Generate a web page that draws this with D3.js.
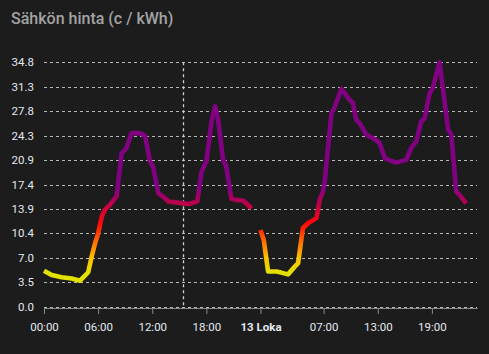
<!DOCTYPE html>
<html><head><meta charset="utf-8">
<script src="https://cdn.jsdelivr.net/npm/d3@7"></script>
<style>
html,body{margin:0;padding:0;background:#1c1c1c;}
svg{display:block;font-family:Roboto,"Noto Sans",sans-serif;}
</style></head><body>
<svg id="c" width="489" height="354"></svg>
<script>
// ---- data ----
const title = "Sähkön hinta (c / kWh)";
// hours since 00:00 of the first day at each bend of the line
const day1Hours  = [0,0.85,1.96,3.06,4.0,4.9,5.28,5.65,6.0,6.4,6.75,7.3,8.05,8.6,9.16,9.7,10.6,11.2,11.75,12.1,12.67,13.2,13.8,15.47,16.0,17.0,17.46,18.0,18.57,18.97,19.3,19.85,20.2,20.76,21.3,22.07,22.6,23.0];
const day1Values = [5.13,4.5,4.2,4.0,3.7,4.9,7.1,9.0,10.4,12.8,13.8,14.5,15.7,21.8,22.6,24.7,24.7,24.3,20.65,19.9,16.15,15.67,14.96,14.7,14.6,15.0,19.2,20.65,26.35,28.5,26.6,20.9,20.0,15.4,15.2,15.1,14.5,14.0];
const day2Hours  = [24.0,24.36,24.84,25.77,26.3,27.05,27.8,28.17,28.7,29.3,30.2,30.56,30.93,31.1,31.86,32.2,32.97,33.9,34.25,34.6,35.0,35.7,36.8,37.2,37.8,38.7,39.06,40.16,40.7,41.27,41.8,42.2,42.75,43.1,43.85,44.8,45.15,45.7,46.07,46.8];
const day2Values = [10.9,9.5,5.0,5.0,4.85,4.6,5.7,6.2,11.2,11.9,12.6,15.2,16.4,17.6,27.5,28.3,31.0,29.4,29.0,26.6,26.1,24.5,23.7,23.3,21.1,20.65,20.5,20.9,22.6,23.5,26.35,26.8,30.4,31.1,34.77,25.2,24.5,16.4,15.9,14.7];
const yMax = 34.77;
const yTickValues = [0,1,2,3,4,5,6,7,8,9,10].map(i => i * yMax / 10);
const xTickHours = [0,6,12,18,24,31,37,43];
const xTickLabels = ["00:00","06:00","12:00","18:00","13 Loka","07:00","13:00","19:00"];
const nowHour = 15.4;
const colorStopValues = [4.8, 7, 9.2, 11.8, 14.2, 16.8];
const colorStopColors = ["#e2e200", "#ffbe00", "#ff7000", "#ff0808", "#c8003e", "#820082"];

// ---- layout ----
const svg = d3.select("#c");
const x = d3.scaleLinear().domain([0, 48]).range([44, 477]);
const y = d3.scaleLinear().domain([0, yMax]).range([306.7, 62.3]);

svg.append("rect").attr("width", 489).attr("height", 354).attr("fill", "#1c1c1c");

svg.append("text").attr("x", 11).attr("y", 23.5)
  .attr("font-size", 16).attr("font-weight", 500).attr("fill", "#a3a3a3")
  .text(title);

// gridlines
const grid = svg.append("g");
grid.selectAll("line").data(yTickValues).join("line")
  .attr("x1", x(0)).attr("x2", x(48))
  .attr("y1", d => Math.round(y(d)) + 0.5).attr("y2", d => Math.round(y(d)) + 0.5)
  .attr("stroke", "#b8b8b8").attr("stroke-width", 1).attr("stroke-dasharray", "3,3");

// y labels
svg.append("g").selectAll("text").data(yTickValues).join("text")
  .attr("x", 34).attr("y", d => y(d) + 4)
  .attr("text-anchor", "end").attr("font-size", 11.5).attr("fill", "#e2e8ef")
  .text(d => d3.format(".1f")(d));

// now line
svg.append("line")
  .attr("x1", Math.round(x(nowHour)) + 0.5).attr("x2", Math.round(x(nowHour)) + 0.5)
  .attr("y1", y(yMax)).attr("y2", y(0))
  .attr("stroke", "#d0d0d0").attr("stroke-width", 1.3).attr("stroke-dasharray", "3,3");

// x axis
const xAxis = d3.axisBottom(x).tickValues(xTickHours)
  .tickFormat((d, i) => xTickLabels[i]).tickSize(6).tickSizeOuter(0);
const gx = svg.append("g").attr("transform", "translate(0,308)").call(xAxis);
gx.select(".domain").attr("stroke", "#8a8a8a").attr("stroke-width", 1.2);
gx.selectAll(".tick line").attr("stroke", "#8a8a8a");
gx.selectAll(".tick text").attr("fill", "#e2e8ef").attr("font-size", 11.5)
  .attr("font-family", "Roboto, 'Noto Sans', sans-serif").attr("dy", "1.2em")
  .attr("font-weight", (d, i) => xTickLabels[i] === "13 Loka" ? 700 : 400);

// gradient by value
const defs = svg.append("defs");
const grad = defs.append("linearGradient").attr("id", "lg")
  .attr("gradientUnits", "userSpaceOnUse")
  .attr("x1", 0).attr("x2", 0).attr("y1", y(0)).attr("y2", y(yMax));
grad.selectAll("stop").data(colorStopValues).join("stop")
  .attr("offset", d => d / yMax)
  .attr("stop-color", (d, i) => colorStopColors[i]);

const line = d3.line().x(d => x(d[0])).y(d => y(d[1]));
[[day1Hours, day1Values], [day2Hours, day2Values]].forEach(([hs, vs]) => {
  svg.append("path").datum(hs.map((h, i) => [h, vs[i]]))
    .attr("d", line).attr("fill", "none").attr("stroke", "url(#lg)")
    .attr("stroke-width", 4.6).attr("stroke-linejoin", "round").attr("stroke-linecap", "butt");
});
</script></body></html>
